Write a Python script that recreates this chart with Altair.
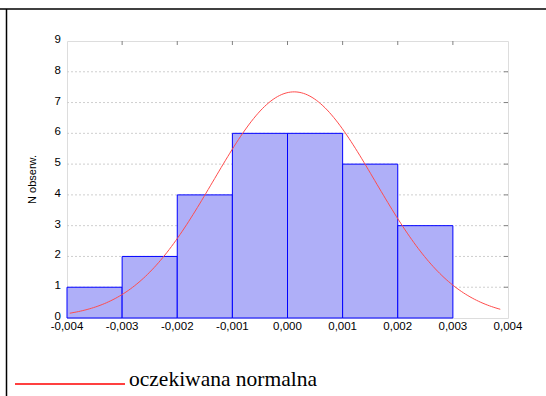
import altair as alt
import pandas as pd
import numpy as np

# Histogram bins (left / right edges) and observed counts
bin_start = [-0.004, -0.003, -0.002, -0.001, 0.000, 0.001, 0.002]
bin_end = [-0.003, -0.002, -0.001, 0.000, 0.001, 0.002, 0.003]
counts = [1, 2, 4, 6, 6, 5, 3]

# Expected normal curve parameters
mu = 0.00012
sigma = 0.001466
curve_from, curve_to = -0.00395, 0.00386

x_ticks = [-0.004, -0.003, -0.002, -0.001, 0.0, 0.001, 0.002, 0.003, 0.004]
x_tick_labels = ["-0,004", "-0,003", "-0,002", "-0,001", "0,000", "0,001", "0,002", "0,003", "0,004"]
y_ticks = [0, 1, 2, 3, 4, 5, 6, 7, 8, 9]
y_tick_labels = ["0", "1", "2", "3", "4", "5", "6", "7", "8", "9"]

W, H = 441, 277
L, T = 67, 41
FONT = "Liberation Sans"
SERIF = "Liberation Serif"

bars = pd.DataFrame({"x0": bin_start, "x1": bin_end, "n": counts})
n_total = sum(counts)
bw = bin_end[0] - bin_start[0]
xs = np.linspace(curve_from, curve_to, 200)
curve = pd.DataFrame({
    "x": xs,
    "y": n_total * bw / (sigma * np.sqrt(2 * np.pi)) * np.exp(-0.5 * ((xs - mu) / sigma) ** 2),
})
xt = pd.DataFrame({"v": x_ticks, "lab": x_tick_labels})
yt = pd.DataFrame({"v": y_ticks, "lab": y_tick_labels})

xscale = alt.Scale(domain=[-0.004, 0.004], nice=False, zero=False)
yscale = alt.Scale(domain=[0, 9], nice=False)

# dotted horizontal grid
grid = alt.Chart(yt[(yt.v > 0) & (yt.v < 9)]).mark_rule(
    color="#cfcfcf", strokeWidth=1, strokeDash=[2, 2]
).encode(y=alt.Y("v:Q", scale=yscale, axis=None), x=alt.value(0), x2=alt.value(W))

hist = alt.Chart(bars).mark_rect(
    fill="#afaff8", stroke="#0000ff", strokeWidth=1
).encode(
    x=alt.X("x0:Q", scale=xscale, axis=None),
    x2="x1:Q",
    y=alt.Y("n:Q", scale=yscale, axis=None),
    y2=alt.datum(0),
)

line = alt.Chart(curve).mark_line(color="#ff4d4d", strokeWidth=1).encode(
    x=alt.X("x:Q", scale=xscale, axis=None),
    y=alt.Y("y:Q", scale=yscale, axis=None),
)

# inward tick marks on the top and right edges of the frame
top_ticks = alt.Chart(xt.iloc[1:-1]).mark_rule(color="#808080", strokeWidth=1).encode(
    x=alt.X("v:Q", scale=xscale, axis=None), y=alt.value(0), y2=alt.value(4)
)
right_ticks = alt.Chart(yt.iloc[1:-1]).mark_rule(color="#808080", strokeWidth=1).encode(
    y=alt.Y("v:Q", scale=yscale, axis=None), x=alt.value(W), x2=alt.value(W - 4)
)

# tick labels and axis title
x_labels = alt.Chart(xt).mark_text(
    font=FONT, fontSize=11.5, color="#000", baseline="top", align="center", clip=False
).encode(x=alt.X("v:Q", scale=xscale, axis=None), y=alt.value(H + 3), text="lab:N")
y_labels = alt.Chart(yt).mark_text(
    font=FONT, fontSize=11.5, color="#000", baseline="middle", align="right", clip=False, dy=-1
).encode(y=alt.Y("v:Q", scale=yscale, axis=None), x=alt.value(-6), text="lab:N")
y_title = alt.Chart(pd.DataFrame({"t": ["N obserw."]})).mark_text(
    font=FONT, fontSize=11, color="#000", angle=270, baseline="middle",
    align="center", clip=False
).encode(text="t:N", x=alt.value(33 - L), y=alt.value(H / 2))

# page border lines (top and left)
border_top = alt.Chart(pd.DataFrame({"a": [0]})).mark_rule(
    color="#000", strokeWidth=1.5, clip=False
).encode(x=alt.value(-L), x2=alt.value(546 - L), y=alt.value(9 - T))
border_left = alt.Chart(pd.DataFrame({"a": [0]})).mark_rule(
    color="#000", strokeWidth=1.5, clip=False
).encode(x=alt.value(6.5 - L), y=alt.value(9 - T), y2=alt.value(396 - T))

# legend: red line sample + label
legend_line = alt.Chart(pd.DataFrame({"a": [0]})).mark_rule(
    color="#ff4040", strokeWidth=2, clip=False
).encode(x=alt.value(15 - L), x2=alt.value(125 - L), y=alt.value(384 - T))
legend_text = alt.Chart(pd.DataFrame({"a": ["oczekiwana normalna"]})).mark_text(
    font=SERIF, fontSize=21.5, color="#000", align="left",
    baseline="alphabetic", clip=False
).encode(text="a:N", x=alt.value(129 - L), y=alt.value(386 - T))

chart = alt.layer(
    grid, hist, line, top_ticks, right_ticks, x_labels, y_labels, y_title,
    border_top, border_left, legend_line, legend_text
).properties(
    width=W, height=H,
    autosize=alt.AutoSizeParams(type="none"),
    padding={"left": L, "top": T, "right": 546 - L - W, "bottom": 396 - T - H},
).configure_view(
    stroke="#808080", strokeWidth=1.5
).configure(background="white")

chart.save("out.html", embed_options={"renderer": "svg", "actions": False})
